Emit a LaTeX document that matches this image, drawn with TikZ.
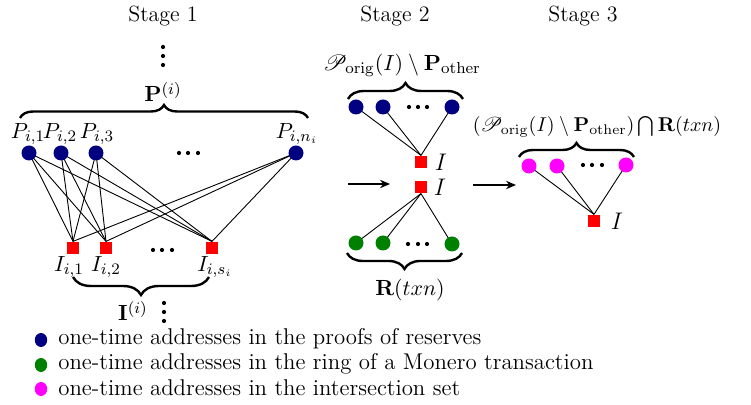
\documentclass[tikz,border=0pt]{standalone}
\usepackage{amsmath,amssymb}
\usepackage{mathrsfs}
\usetikzlibrary{decorations.pathreplacing,arrows.meta,backgrounds,shapes.geometric}
\definecolor{navyb}{RGB}{0,0,128}
\definecolor{greenb}{RGB}{0,128,0}
\definecolor{magb}{RGB}{255,0,255}
\definecolor{redb}{RGB}{255,0,0}
\begin{document}
\begin{tikzpicture}[x=0.5pt,y=-0.5pt,
  txt/.style={inner sep=0pt,font=\fontsize{11}{13}\selectfont},
  smalltxt/.style={inner sep=0pt,font=\fontsize{10}{12}\selectfont},
  bigi/.style={inner sep=0pt,font=\fontsize{13}{15}\selectfont},
  legtxt/.style={inner sep=0pt,anchor=west,font=\fontsize{11.4}{13}\selectfont},
  pnode/.style={circle,fill=navyb,minimum size=7.5pt,inner sep=0pt},
  rnode/.style={circle,fill=greenb,minimum size=7.5pt,inner sep=0pt},
  mnode/.style={circle,fill=magb,minimum size=7.5pt,inner sep=0pt},
  legdot/.style={ellipse,inner sep=0pt,minimum width=6.2pt,minimum height=7pt},
  inode/.style={rectangle,fill=redb,minimum width=5.8pt,minimum height=6.2pt,inner sep=0pt},
  dotnode/.style={circle,fill=black,minimum size=2.1pt,inner sep=0pt},
  edge/.style={draw=black,line width=0.45pt},
  bracestyle/.style={decorate,decoration={brace,amplitude=#1},line width=1.2pt},
  arr/.style={-{Stealth[length=5pt,width=4.2pt]},line width=0.6pt}
]
\path[use as bounding box] (0,0) rectangle (751,405);

% Stage titles
\node[txt] (s1) at (163,16) {Stage 1};
\node[txt] (s2) at (395,16) {Stage 2};
\node[txt] (s3) at (583,16) {Stage 3};

% ---------------- Stage 1 ----------------
\node[dotnode] (v1a) at (163,47) {};
\node[dotnode] (v1b) at (163,56) {};
\node[dotnode] (v1c) at (163,65) {};
\node[txt] (Plab) at (163,92) {$\mathbf{P}^{(i)}$};
\coordinate (b1l) at (20,118);
\coordinate (b1r) at (308,118);
\draw[bracestyle=6.5pt] (b1l) -- (b1r);

\node[txt] (lP1) at (28,134) {$P_{i,1}$};
\node[txt] (lP2) at (60,134) {$P_{i,2}$};
\node[txt] (lP3) at (97,134) {$P_{i,3}$};
\node[txt] (lPn) at (297,134) {$P_{i,n_i}$};

\node[pnode] (P1) at (29,153) {};
\node[pnode] (P2) at (61,153) {};
\node[pnode] (P3) at (96,153) {};
\node[pnode] (Pn) at (296,153) {};
\node[dotnode] (h1a) at (179,153) {};
\node[dotnode] (h1b) at (188,153) {};
\node[dotnode] (h1c) at (198,153) {};

\node[inode] (I1) at (73,248) {};
\node[inode] (I2) at (106,248) {};
\node[inode] (Is) at (212,248) {};
\node[dotnode] (h2a) at (153,250) {};
\node[dotnode] (h2b) at (162,250) {};
\node[dotnode] (h2c) at (172,250) {};

\begin{pgfonlayer}{background}
\foreach \p in {P1,P2,P3,Pn}
  \foreach \i in {I1,I2,Is}
    \draw[edge] (\p.center) -- (\i.north);
\end{pgfonlayer}

\node[txt] (lI1) at (69,267) {$I_{i,1}$};
\node[txt] (lI2) at (106,267) {$I_{i,2}$};
\node[txt] (lIs) at (215,267) {$I_{i,s_i}$};
\coordinate (b2r) at (209,277);
\coordinate (b2l) at (73,277);
\draw[bracestyle=9pt] (b2r) -- (b2l);
\node[txt] (Ilab) at (133,311) {$\mathbf{I}^{(i)}$};
\node[dotnode] (v2a) at (164,303) {};
\node[dotnode] (v2b) at (164,312) {};
\node[dotnode] (v2c) at (164,321) {};

% ---------------- Stage 2 ----------------
\node[txt] (Olab) at (402,65) {$\mathscr{P}_{\mathrm{orig}}(I)\setminus\mathbf{P}_{\mathrm{other}}$};
\coordinate (b3l) at (348,99);
\coordinate (b3r) at (463,99);
\draw[bracestyle=8pt] (b3l) -- (b3r);
\node[pnode] (B1) at (356,107) {};
\node[pnode] (B2) at (383,107) {};
\node[pnode] (B3) at (452,107) {};
\node[dotnode] (h3a) at (409,107) {};
\node[dotnode] (h3b) at (418,107) {};
\node[dotnode] (h3c) at (427,107) {};
\node[inode] (IA) at (421,162) {};
\node[bigi] (lIA) at (441,162) {$I$};
\node[inode] (IB) at (421,187) {};
\node[bigi] (lIB) at (440,187) {$I$};
\node[rnode] (G1) at (356,243) {};
\node[rnode] (G2) at (383,243) {};
\node[rnode] (G3) at (452,244) {};
\node[dotnode] (h4a) at (408,244) {};
\node[dotnode] (h4b) at (418,244) {};
\node[dotnode] (h4c) at (427,244) {};
\begin{pgfonlayer}{background}
\foreach \b in {B1,B2,B3} \draw[edge] (\b.center) -- (IA.north);
\foreach \g in {G1,G2,G3} \draw[edge] (IB.south) -- (\g.center);
\end{pgfonlayer}
\coordinate (b4r) at (462,253);
\coordinate (b4l) at (347,253);
\draw[bracestyle=8pt] (b4r) -- (b4l);
\node[txt] (Rlab) at (410,290) {$\mathbf{R}(txn)$};

\coordinate (a1s) at (348,184);
\coordinate (a1e) at (390,184);
\draw[arr] (a1s) -- (a1e);
\coordinate (a2s) at (473,185);
\coordinate (a2e) at (516,185);
\draw[arr] (a2s) -- (a2e);

% ---------------- Stage 3 ----------------
\node[smalltxt] (Xlab) at (597,127) {$(\mathscr{P}_{\mathrm{orig}}(I)\setminus\mathbf{P}_{\mathrm{other}})\bigcap\mathbf{R}(txn)$};
\coordinate (b5l) at (519,157);
\coordinate (b5r) at (634,157);
\draw[bracestyle=7pt] (b5l) -- (b5r);
\node[mnode] (M1) at (529,166) {};
\node[mnode] (M2) at (557,166) {};
\node[mnode] (M3) at (626,165) {};
\node[dotnode] (h5a) at (583,165) {};
\node[dotnode] (h5b) at (592,165) {};
\node[dotnode] (h5c) at (602,165) {};
\node[inode] (IC) at (594,221) {};
\node[bigi] (lIC) at (617,221) {$I$};
\begin{pgfonlayer}{background}
\foreach \m in {M1,M2,M3} \draw[edge] (\m.center) -- (IC.north);
\end{pgfonlayer}

% ---------------- Legend ----------------
\node[legdot,fill=navyb] (L1) at (41,340) {};
\node[legdot,fill=greenb] (L2) at (41,365) {};
\node[legdot,fill=magb] (L3) at (41,389) {};
\node[legtxt] (T1) at (58,339) {one-time addresses in the proofs of reserves};
\node[legtxt] (T2) at (58,364) {one-time addresses in the ring of a Monero transaction};
\node[legtxt] (T3) at (58,388) {one-time addresses in the intersection set};
\end{tikzpicture}
\end{document}
